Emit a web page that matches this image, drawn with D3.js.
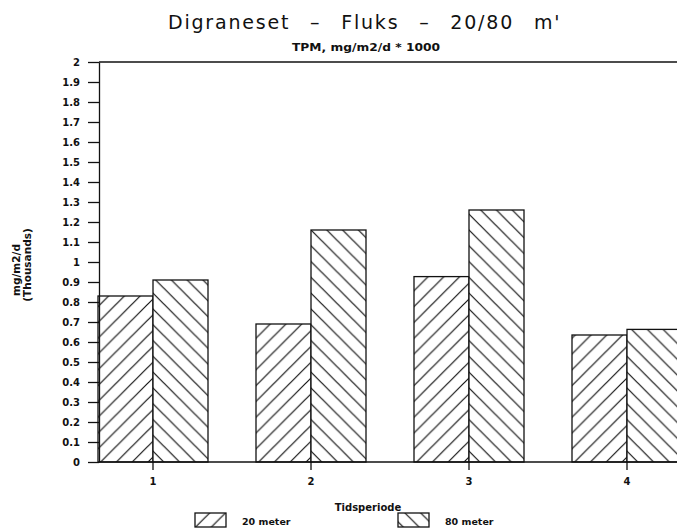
<!DOCTYPE html>
<html>
<head>
<meta charset="utf-8">
<script src="https://cdn.jsdelivr.net/npm/d3@7"></script>
<style>
  body { margin: 0; background: #fff; }
  svg { display: block; }
  .axis text { font-family: "DejaVu Sans", sans-serif; font-weight: bold; font-size: 10px; fill: #111; }
  .axis line, .axis path { stroke: #111; stroke-width: 1.3; }
  .lbl { font-family: "DejaVu Sans", sans-serif; font-weight: bold; fill: #111; }
</style>
</head>
<body>
<svg id="chart" width="677" height="530"></svg>
<script>
var periods = ["1", "2", "3", "4"];
var seriesNames = ["20 meter", "80 meter"];
var meter20 = [0.83, 0.69, 0.927, 0.635];
var meter80 = [0.91, 1.16, 1.26, 0.663];
var yTickValues = [0, 0.1, 0.2, 0.3, 0.4, 0.5, 0.6, 0.7, 0.8, 0.9, 1, 1.1, 1.2, 1.3, 1.4, 1.5, 1.6, 1.7, 1.8, 1.9, 2];

var svg = d3.select("#chart"),
    margin = {top: 62, left: 99, bottom: 68},
    width = +svg.attr("width"),
    height = +svg.attr("height"),
    y0 = height - margin.bottom;

var data = periods.map(function(p, i) {
  return {period: p, values: [meter20[i], meter80[i]]};
});

// one step = 158px, first group starts at the y axis
var x = d3.scaleBand()
    .domain(periods)
    .range([74, 74 + 158 * periods.length]);

var x1 = d3.scaleBand()
    .domain(seriesNames)
    .range([-55, 55]);

var y = d3.scaleLinear()
    .domain([0, 2])
    .range([y0, margin.top]);

// hatch patterns, anchored at the first tick and the baseline so the chevrons meet
var s = 15.8;
var defs = svg.append("defs");
var hatch = [
  {id: "hatch20", d: "M0," + s + "L" + s + ",0M" + (-s / 2) + "," + (s / 2) + "L" + (s / 2) + "," + (-s / 2) + "M" + (s / 2) + "," + (1.5 * s) + "L" + (1.5 * s) + "," + (s / 2)},
  {id: "hatch80", d: "M0,0L" + s + "," + s + "M" + (-s / 2) + "," + (s / 2) + "L" + (s / 2) + "," + (1.5 * s) + "M" + (s / 2) + "," + (-s / 2) + "L" + (1.5 * s) + "," + (s / 2)}
];
var pat = defs.selectAll("pattern")
    .data(hatch)
    .enter().append("pattern")
      .attr("id", function(d) { return d.id; })
      .attr("patternUnits", "userSpaceOnUse")
      .attr("x", x("1") + x.bandwidth() / 2)
      .attr("y", y0)
      .attr("width", s)
      .attr("height", s);
pat.append("rect").attr("width", s).attr("height", s).attr("fill", "#fff");
pat.append("path")
    .attr("d", function(d) { return d.d; })
    .attr("stroke", "#111")
    .attr("stroke-width", 1.2)
    .attr("fill", "none");

var fills = d3.scaleOrdinal().domain(seriesNames).range(["url(#hatch20)", "url(#hatch80)"]);

// title
svg.append("text")
    .attr("x", 168)
    .attr("y", 29)
    .attr("font-family", "'DejaVu Sans', sans-serif")
    .attr("font-size", 19)
    .attr("letter-spacing", 1.8)
    .attr("word-spacing", 12)
    .attr("fill", "#111")
    .text("Digraneset \u2013 Fluks \u2013 20/80 m'");

svg.append("text")
    .attr("class", "lbl")
    .attr("x", 292)
    .attr("y", 51)
    .attr("textLength", 148)
    .attr("lengthAdjust", "spacingAndGlyphs")
    .attr("font-size", 10)
    .text("TPM, mg/m2/d * 1000");

// bars
var groups = svg.append("g")
  .selectAll("g")
  .data(data)
  .enter().append("g")
    .attr("transform", function(d) { return "translate(" + (x(d.period) + x.bandwidth() / 2) + ",0)"; });

groups.selectAll("rect")
  .data(function(d) { return d.values.map(function(v, i) { return {key: seriesNames[i], value: v}; }); })
  .enter().append("rect")
    .attr("x", function(d) { return x1(d.key); })
    .attr("y", function(d) { return y(d.value); })
    .attr("width", x1.bandwidth())
    .attr("height", function(d) { return y0 - y(d.value); })
    .attr("fill", function(d) { return fills(d.key); })
    .attr("stroke", "#111")
    .attr("stroke-width", 1.3);

// frame top
svg.append("line")
    .attr("x1", margin.left).attr("x2", width)
    .attr("y1", margin.top).attr("y2", margin.top)
    .attr("stroke", "#111").attr("stroke-width", 1.3);

// axes
svg.append("g")
    .attr("class", "axis")
    .attr("transform", "translate(" + margin.left + ",0)")
    .call(d3.axisLeft(y).tickValues(yTickValues).tickSize(11).tickSizeOuter(0).tickPadding(8).tickFormat(d3.format("~g")));

var xAxis = svg.append("g")
    .attr("class", "axis")
    .attr("transform", "translate(0," + y0 + ")")
    .call(d3.axisBottom(x).tickSize(8).tickSizeOuter(0).tickPadding(8));
xAxis.select(".domain").remove();
xAxis.append("line")
    .attr("x1", margin.left).attr("x2", width)
    .attr("stroke", "#111").attr("stroke-width", 1.3);

// axis titles
svg.append("text")
    .attr("class", "lbl")
    .attr("transform", "translate(20,270) rotate(-90)")
    .attr("text-anchor", "middle")
    .attr("font-size", 10.5)
    .text("mg/m2/d");

svg.append("text")
    .attr("class", "lbl")
    .attr("transform", "translate(31,265) rotate(-90)")
    .attr("text-anchor", "middle")
    .attr("font-size", 10.5)
    .text("(Thousands)");

svg.append("text")
    .attr("class", "lbl")
    .attr("x", 368)
    .attr("y", 511)
    .attr("text-anchor", "middle")
    .attr("font-size", 10)
    .text("Tidsperiode");

// legend
var legend = svg.append("g")
  .selectAll("g")
  .data(seriesNames)
  .enter().append("g")
    .attr("transform", function(d, i) { return "translate(" + (195 + i * 203) + ",513)"; });

legend.append("rect")
    .attr("width", 31)
    .attr("height", 14)
    .attr("fill", fills)
    .attr("stroke", "#111")
    .attr("stroke-width", 1.3);

legend.append("text")
    .attr("class", "lbl")
    .attr("x", 47)
    .attr("y", 12)
    .attr("font-size", 9.5)
    .text(function(d) { return d; });
</script>
</body>
</html>
